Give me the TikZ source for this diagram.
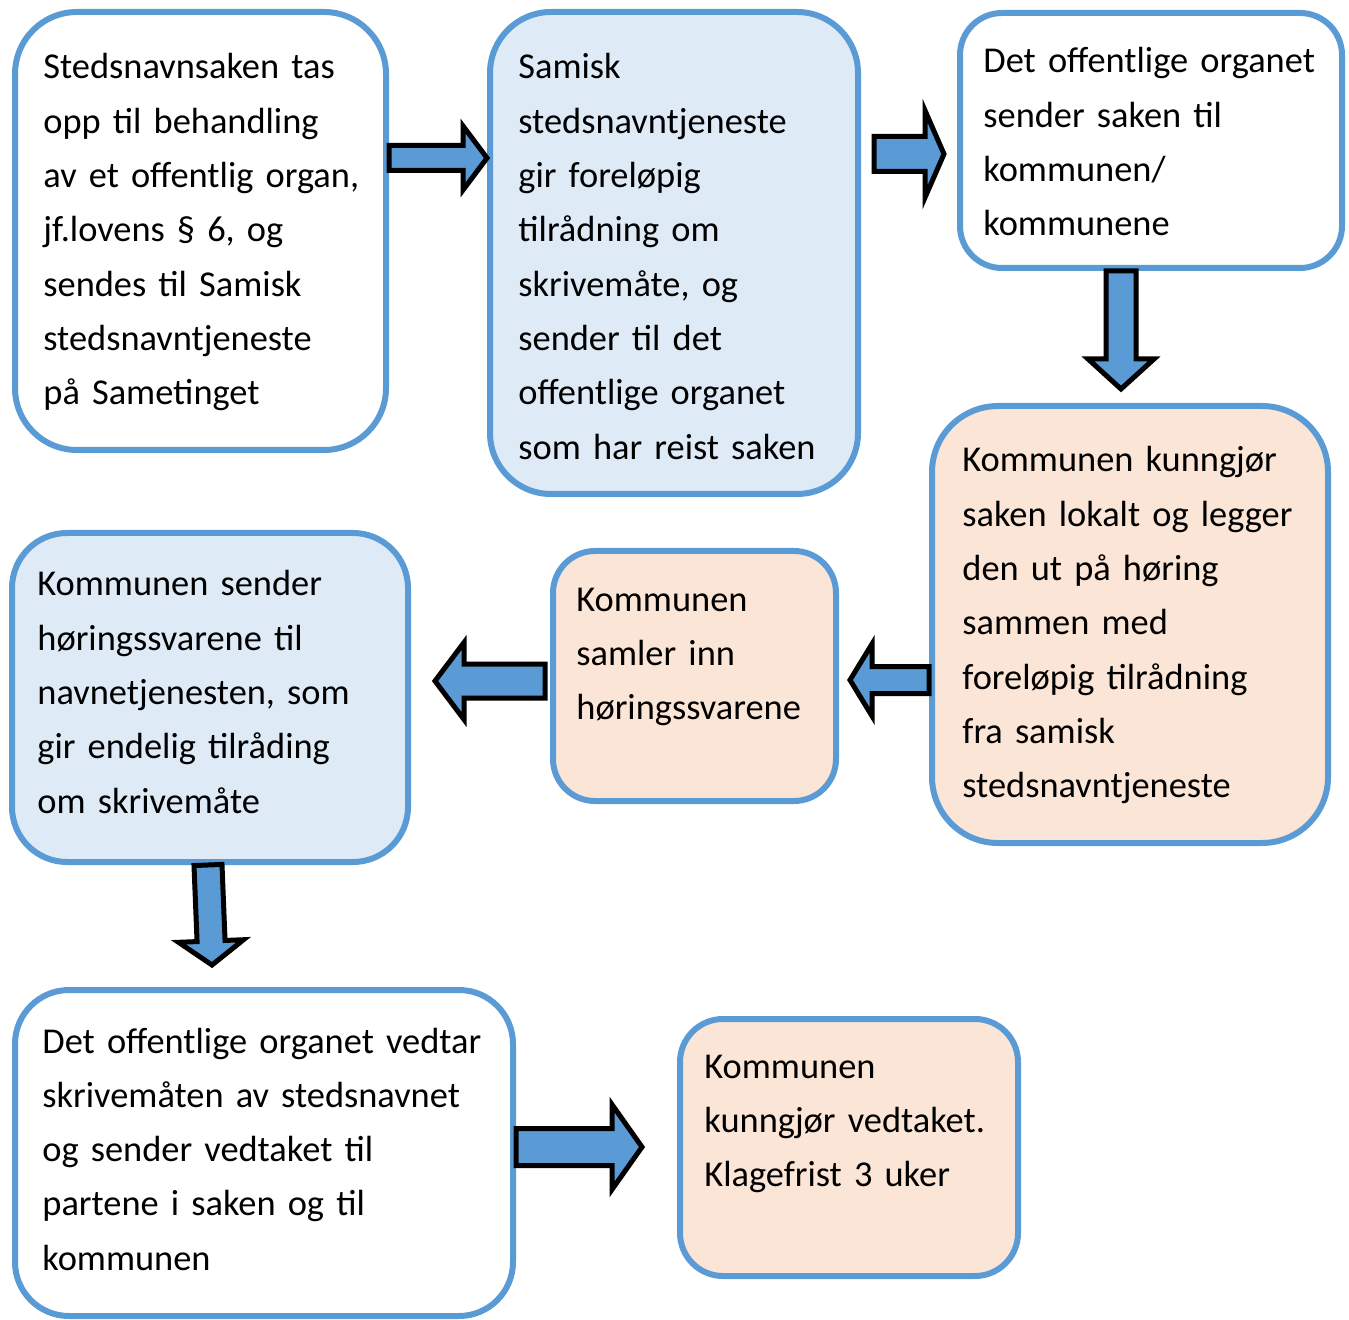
\documentclass[tikz,border=0pt]{standalone}
\usepackage{fontspec}
\setmainfont{Carlito}
\usetikzlibrary{calc}
\definecolor{boxblue}{HTML}{5B9BD5}
\definecolor{lightblue}{HTML}{DEEBF7}
\definecolor{peach}{HTML}{FBE5D6}

% tail, tip, half shaft, half head, head length
\newcommand{\blockarrow}[5]{%
  \path ($(#2)!#5!(#1)$) coordinate (ahead);
  \draw[blockarrow] ($(#1)!#3!90:(#2)$) -- ($(ahead)!#3!90:(#2)$) -- ($(ahead)!#4!90:(#2)$) -- (#2)
    -- ($(ahead)!#4!-90:(#2)$) -- ($(ahead)!#3!-90:(#2)$) -- ($(#1)!#3!-90:(#2)$) -- cycle;
}

\begin{document}
\begin{tikzpicture}[x=0.5pt, y=-0.5pt,
  box/.style={draw=boxblue, line width=3pt, inner sep=0pt},
  txt/.style={anchor=base west, inner sep=0pt, align=left, text width=240pt,
    font=\fontsize{18.2pt}{27.15pt}\selectfont},
  blockarrow/.style={draw=black, line width=2.5pt, fill=boxblue, line join=miter}]
\useasboundingbox (0,0) rectangle (1349,1320);

\node[box, fill=white, minimum width=185.5pt, minimum height=219pt, rounded corners=31pt] (boxA) at (200.5,231) {};
\node[txt] (txtA) at ([shift={(31,70)}]boxA.north west) {Stedsnavnsaken tas\\opp til behandling\\av et offentlig organ,\\jf.lovens § 6, og\\sendes til Samisk\\stedsnavntjeneste\\på Sametinget};

\node[box, fill=lightblue, minimum width=184pt, minimum height=241pt, rounded corners=30.5pt] (boxB) at (674,253) {};
\node[txt] (txtB) at ([shift={(31,70)}]boxB.north west) {Samisk\\stedsnavntjeneste\\gir foreløpig\\tilrådning om\\skrivemåte, og\\sender til det\\offentlige organet\\som har reist saken};

\node[box, fill=white, minimum width=191pt, minimum height=127.5pt, rounded corners=21pt] (boxC) at (1151,140.5) {};
\node[txt] (txtC) at ([shift={(26,63)}]boxC.north west) {Det offentlige organet\\sender saken til\\kommunen/\\kommunene};

\node[box, fill=peach, minimum width=198pt, minimum height=218.5pt, rounded corners=33pt] (boxD) at (1130,624.5) {};
\node[txt] (txtD) at ([shift={(33,69)}]boxD.north west) {Kommunen kunngjør\\saken lokalt og legger\\den ut på høring\\sammen med\\foreløpig tilrådning\\fra samisk\\stedsnavntjeneste};

\node[box, fill=peach, minimum width=141.5pt, minimum height=125pt, rounded corners=21pt] (boxE) at (694.5,676) {};
\node[txt] (txtE) at ([shift={(26,63)}]boxE.north west) {Kommunen\\samler inn\\høringssvarene};

\node[box, fill=lightblue, minimum width=198pt, minimum height=164.5pt, rounded corners=27.5pt] (boxF) at (210,697.5) {};
\node[txt] (txtF) at ([shift={(28,66)}]boxF.north west) {Kommunen sender\\høringssvarene til\\navnetjenesten, som\\gir endelig tilråding\\om skrivemåte};

\node[box, fill=white, minimum width=249pt, minimum height=163pt, rounded corners=27pt] (boxG) at (264,1153) {};
\node[txt] (txtG) at ([shift={(30,66)}]boxG.north west) {Det offentlige organet vedtar\\skrivemåten av stedsnavnet\\og sender vedtaket til\\partene i saken og til\\kommunen};

\node[box, fill=peach, minimum width=169pt, minimum height=128.5pt, rounded corners=21.5pt] (boxH) at (849,1147.5) {};
\node[txt] (txtH) at ([shift={(27,62)}]boxH.north west) {Kommunen\\kunngjør vedtaket.\\Klagefrist 3 uker};

% block arrows
\coordinate (ab0) at (boxA.east |- 0,158);
\coordinate (ab1) at (boxB.west |- 0,158);
\coordinate (bc0) at (874,154);
\coordinate (bc1) at (944,154);
\coordinate (cd0) at (1121,0 |- boxC.south);
\coordinate (cd1) at (1121,389);
\coordinate (de0) at (boxD.west |- 0,680);
\coordinate (de1) at (850,680);
\coordinate (ef0) at (545,681);
\coordinate (ef1) at (435,681);
\coordinate (fg0) at (208,0 |- boxF.south);
\coordinate (fg1) at (212,965);
\coordinate (gh0) at (boxG.east |- 0,1147);
\coordinate (gh1) at (642,1147);
\blockarrow{ab0}{ab1}{6.25pt}{16pt}{12pt}
\blockarrow{bc0}{bc1}{8.75pt}{21.75pt}{9.5pt}
\blockarrow{cd0}{cd1}{7.5pt}{16.5pt}{15pt}
\blockarrow{de0}{de1}{6.75pt}{18pt}{11pt}
\blockarrow{ef0}{ef1}{8.5pt}{19.25pt}{14.5pt}
\blockarrow{fg0}{fg1}{7pt}{16.25pt}{12pt}
\blockarrow{gh0}{gh1}{9.25pt}{21.25pt}{15pt}
\end{tikzpicture}
\end{document}
